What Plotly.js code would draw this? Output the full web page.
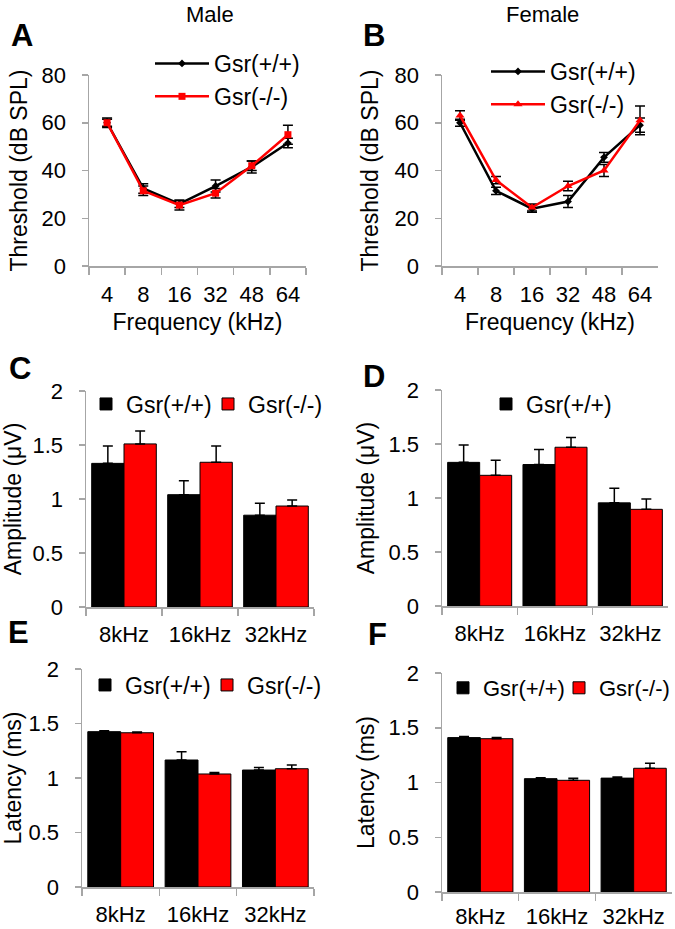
<!DOCTYPE html>
<html>
<head>
<meta charset="utf-8">
<script src="https://cdn.plot.ly/plotly-3.0.1.min.js"></script>
<style>html,body{margin:0;padding:0;background:#fff;}#chart{width:675px;height:929px;}</style>
</head>
<body>
<div id="chart"></div>
<script>
// ---------- data ----------
var freqLabels = ['4', '8', '16', '32', '48', '64'];
var maleWT = [60, 32.5, 26, 33.5, 41.5, 51.5];
var maleWTerr = [1.5, 2, 1.5, 2.5, 2.5, 2];
var maleKO = [60, 31.5, 25.5, 30.5, 42, 55];
var maleKOerr = [2, 2, 2, 2, 2, 4];
var femWT = [60, 31.5, 24, 27, 45.5, 59];
var femWTerr = [1.5, 1.5, 1.5, 2.5, 2, 3];
var femKO = [63, 36, 24.5, 33.5, 40, 61];
var femKOerr = [2, 1.5, 1.5, 2, 2.5, 6];

var barLabels = ['8kHz', '16kHz', '32kHz'];
var ampMaleWT = [1.33, 1.04, 0.85];
var ampMaleWTerr = [0.16, 0.13, 0.11];
var ampMaleKO = [1.51, 1.34, 0.935];
var ampMaleKOerr = [0.12, 0.15, 0.055];
var ampFemWT = [1.33, 1.31, 0.955];
var ampFemWTerr = [0.16, 0.14, 0.135];
var ampFemKO = [1.21, 1.47, 0.895];
var ampFemKOerr = [0.14, 0.09, 0.095];
var latMaleWT = [1.425, 1.165, 1.073];
var latMaleWTerr = [0.008, 0.075, 0.024];
var latMaleKO = [1.415, 1.037, 1.085];
var latMaleKOerr = [0.008, 0.013, 0.035];
var latFemWT = [1.41, 1.035, 1.04];
var latFemWTerr = [0.01, 0.008, 0.01];
var latFemKO = [1.40, 1.02, 1.13];
var latFemKOerr = [0.012, 0.018, 0.045];

var nameWT = 'Gsr(+/+)';
var nameKO = 'Gsr(-/-)';

// ---------- helpers ----------
var W = 675, H = 929;
var FONT = 'Liberation Sans, Arial, sans-serif';
var AXC = '#a6a6a6';
function dx(a, b) { return [a / W, b / W]; }
function dy(top, bot) { return [1 - bot / H, 1 - top / H]; }

function lineTrace(y, err, name, color, symbol, size, xa, ya, leg, grp) {
  return {
    type: 'scatter', mode: 'lines+markers', x: freqLabels, y: y, name: name,
    xaxis: xa, yaxis: ya, legend: leg, legendgroup: grp,
    line: {color: color, width: 2.5},
    marker: {color: color, symbol: symbol, size: size},
    error_y: {type: 'data', array: err, visible: true, color: '#000', thickness: 1.5, width: 5}
  };
}
function barTrace(y, err, name, color, xa, ya, leg, show) {
  return {
    type: 'bar', x: barLabels, y: y, name: name, xaxis: xa, yaxis: ya, legend: leg,
    showlegend: show,
    marker: {color: color, line: {color: '#000', width: 1}},
    error_y: {type: 'data', symmetric: false, array: err, arrayminus: err.map(function(){return 0;}),
              visible: true, color: '#000', thickness: 1.5, width: 5}
  };
}

var data = [
  lineTrace(maleWT, maleWTerr, nameWT, '#000000', 'diamond', 6, 'x', 'y', 'legend', 'a1'),
  lineTrace(maleKO, maleKOerr, nameKO, '#ff0000', 'square', 7, 'x', 'y', 'legend', 'a2'),
  lineTrace(femWT, femWTerr, nameWT, '#000000', 'diamond', 6, 'x2', 'y2', 'legend2', 'b1'),
  lineTrace(femKO, femKOerr, nameKO, '#ff0000', 'triangle-up', 8, 'x2', 'y2', 'legend2', 'b2'),
  barTrace(ampMaleWT, ampMaleWTerr, nameWT, '#000000', 'x3', 'y3', 'legend3', true),
  barTrace(ampMaleKO, ampMaleKOerr, nameKO, '#ff0000', 'x3', 'y3', 'legend3', true),
  barTrace(ampFemWT, ampFemWTerr, nameWT, '#000000', 'x4', 'y4', 'legend4', true),
  barTrace(ampFemKO, ampFemKOerr, nameKO, '#ff0000', 'x4', 'y4', 'legend4', false),
  barTrace(latMaleWT, latMaleWTerr, nameWT, '#000000', 'x5', 'y5', 'legend5', true),
  barTrace(latMaleKO, latMaleKOerr, nameKO, '#ff0000', 'x5', 'y5', 'legend5', true),
  barTrace(latFemWT, latFemWTerr, nameWT, '#000000', 'x6', 'y6', 'legend6', true),
  barTrace(latFemKO, latFemKOerr, nameKO, '#ff0000', 'x6', 'y6', 'legend6', true)
];

function xAxis(dom, anchor, titleText, nCat, standoff) {
  var ax = {
    domain: dom, anchor: anchor, type: 'category', range: [-0.5, nCat - 0.5],
    showline: true, linecolor: AXC, linewidth: 1.5, showgrid: false, zeroline: false,
    ticks: 'outside', tickson: 'boundaries', ticklen: 7, tickcolor: AXC, tickwidth: 1.5,
    tickangle: 0, automargin: false,
    tickfont: {family: FONT, size: 22, color: '#000'}, ticklabelstandoff: standoff, fixedrange: true
  };
  if (titleText) ax.title = {text: titleText, font: {family: FONT, size: 23, color: '#000'}, standoff: 8};
  return ax;
}
function yAxis(dom, anchor, titleText, range, dtick, standoff) {
  return {
    domain: dom, anchor: anchor, range: range, dtick: dtick,
    showline: true, linecolor: AXC, linewidth: 1.5, showgrid: false, zeroline: false,
    ticks: 'outside', ticklen: 6, tickcolor: AXC, tickwidth: 1.5, automargin: false,
    tickfont: {family: FONT, size: 22, color: '#000'}, ticklabelstandoff: 11, fixedrange: true,
    title: {text: titleText, font: {family: FONT, size: 23, color: '#000'}, standoff: standoff}
  };
}
function legendBox(x, y, orient, size, iw, extra) {
  var o = {x: x, y: y, xanchor: 'left', yanchor: 'middle', orientation: orient,
          bgcolor: 'rgba(0,0,0,0)', font: {family: FONT, size: size, color: '#000'},
          itemwidth: iw, tracegroupgap: 8, traceorder: 'normal'};
  for (var k in extra) o[k] = extra[k];
  return o;
}

function letter(t, x, y) {
  return {text: '<b>' + t + '</b>', x: x / W, y: 1 - y / H, xref: 'paper', yref: 'paper',
          xanchor: 'left', yanchor: 'middle', showarrow: false,
          font: {family: FONT, size: 31, color: '#000'}};
}
function label(t, x, y) {
  return {text: t, x: x / W, y: 1 - y / H, xref: 'paper', yref: 'paper',
          xanchor: 'center', yanchor: 'middle', showarrow: false,
          font: {family: FONT, size: 22, color: '#000'}};
}

var layout = {
  width: W, height: H, margin: {l: 0, r: 0, t: 0, b: 0, autoexpand: false},
  paper_bgcolor: '#fff', plot_bgcolor: '#fff', showlegend: true,
  barmode: 'group', bargap: 0.15, bargroupgap: 0,
  font: {family: FONT, color: '#000'},
  xaxis: xAxis(dx(89, 306), 'y', 'Frequency (kHz)', 6, 8),
  yaxis: yAxis(dy(75, 266), 'x', 'Threshold (dB SPL)', [0, 80], 20, 7),
  xaxis2: xAxis(dx(442, 658), 'y2', 'Frequency (kHz)', 6, 8),
  yaxis2: yAxis(dy(75, 266), 'x2', 'Threshold (dB SPL)', [0, 80], 20, 9),
  xaxis3: xAxis(dx(86, 314), 'y3', null, 3, 7),
  yaxis3: yAxis(dy(391, 607), 'x3', 'Amplitude (μV)', [0, 2], 0.5, 7),
  xaxis4: xAxis(dx(442, 668), 'y4', null, 3, 7),
  yaxis4: yAxis(dy(390, 606), 'x4', 'Amplitude (μV)', [0, 2], 0.5, 7),
  xaxis5: xAxis(dx(82, 314), 'y5', null, 3, 7),
  yaxis5: yAxis(dy(669, 887), 'x5', 'Latency (ms)', [0, 2], 0.5, 7),
  xaxis6: xAxis(dx(442, 672), 'y6', null, 3, 4),
  yaxis6: yAxis(dy(673, 892), 'x6', 'Latency (ms)', [0, 2], 0.5, 7),
  legend: legendBox(150 / W, 1 - 80 / H, 'v', 23, 54, {}),
  legend2: legendBox(486 / W, 1 - 88 / H, 'v', 23, 54, {}),
  legend3: legendBox(86 / W, 1 - 404 / H, 'h', 23, 30, {entrywidth: 77, entrywidthmode: 'pixels'}),
  legend4: legendBox(486 / W, 1 - 404 / H, 'h', 23, 30, {}),
  legend5: legendBox(85 / W, 1 - 685 / H, 'h', 23, 30, {entrywidth: 77, entrywidthmode: 'pixels'}),
  legend6: legendBox(443 / W, 1 - 688 / H, 'h', 22, 30, {entrywidth: 71, entrywidthmode: 'pixels'}),
  annotations: [
    label('Male', 210, 15), label('Female', 542, 15),
    letter('A', 9, 36), letter('B', 361, 36),
    letter('C', 7, 368), letter('D', 361, 376),
    letter('E', 6, 632), letter('F', 366, 634)
  ]
};

Plotly.newPlot('chart', data, layout, {displayModeBar: false, staticPlot: true});
</script>
</body>
</html>
